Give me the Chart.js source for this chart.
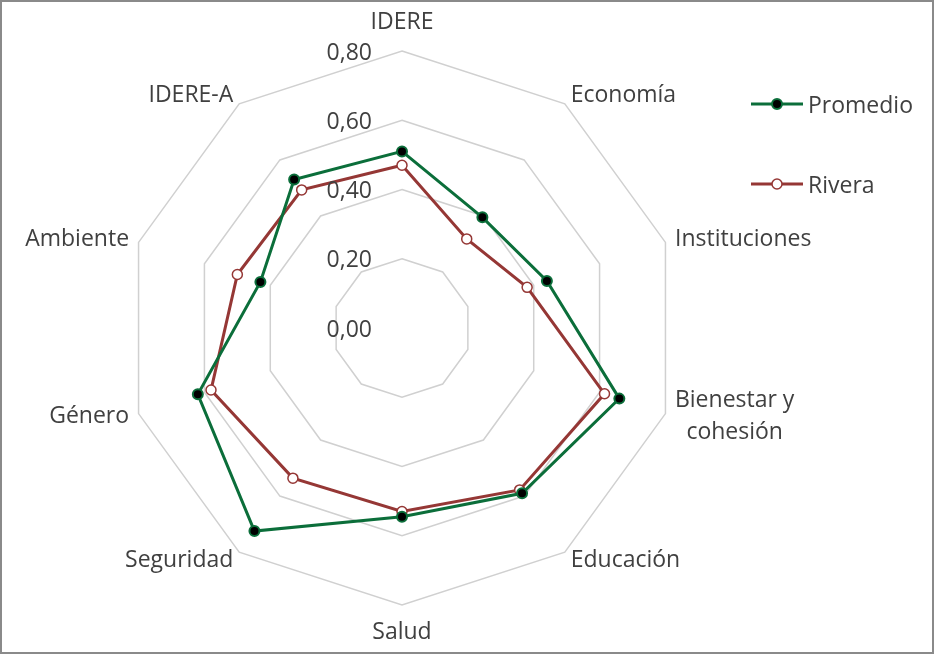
<!DOCTYPE html>
<html>
<head>
<meta charset="utf-8">
<script src="https://cdn.jsdelivr.net/npm/chart.js@4.4.1/dist/chart.umd.min.js"></script>
<style>
    body { margin: 0; background: #fff; }
    #wrap { position: relative; width: 934px; height: 654px; }
    #frame { position: absolute; left: 0; top: 0; width: 934px; height: 654px; box-sizing: border-box; border: 2px solid #8a8a8a; pointer-events: none; }
    .legend { position: absolute; left: 751px; font-family: "Open Sans", sans-serif; font-size: 23px; color: #404040; display: flex; align-items: center; }
    .legend svg { margin-right: 5px; }
</style>
</head>
<body>
<div id="wrap">
    <canvas id="radarChart" width="934" height="654"></canvas>
    <div class="legend" style="top:88px">
        <svg width="52" height="14"><line x1="0" y1="7" x2="52" y2="7" stroke="#0b6e3a" stroke-width="3"/><circle cx="26" cy="7" r="5" fill="#000" stroke="#0b6e3a" stroke-width="2"/></svg>Promedio
    </div>
    <div class="legend" style="top:168px">
        <svg width="52" height="14"><line x1="0" y1="7" x2="52" y2="7" stroke="#953735" stroke-width="3"/><circle cx="26" cy="7" r="5" fill="#fff" stroke="#953735" stroke-width="1.5"/></svg>Rivera
    </div>
    <div id="frame"></div>
</div>
<script>
const categories = ["IDERE", "Economía", "Instituciones", ["Bienestar y", "cohesión"], "Educación",
    "Salud", "Seguridad", "Género", "Ambiente", "IDERE-A"];
const promedio = [0.51, 0.395, 0.44, 0.66, 0.59, 0.545, 0.725, 0.62, 0.43, 0.53];
const rivera = [0.47, 0.318, 0.38, 0.615, 0.578, 0.53, 0.536, 0.58, 0.50, 0.493];
const tickValues = [0, 0.2, 0.4, 0.6, 0.8];

const textColor = "#404040";
const fontFamily = "'Open Sans', sans-serif";

function fmt(v) {
    return v.toFixed(2).replace(".", ",");
}

// labels drawn by hand so they sit where Excel puts them
const labelPlugin = {
    id: "labelPlugin",
    afterDraw(chart) {
        const scale = chart.scales.r;
        const ctx = chart.ctx;
        ctx.save();
        ctx.fillStyle = textColor;
        ctx.font = "23px " + fontFamily;
        ctx.textBaseline = "middle";

        // value ticks, left of the vertical axis
        ctx.textAlign = "right";
        tickValues.forEach(v => {
            const y = scale.yCenter - scale.getDistanceFromCenterForValue(v);
            ctx.fillText(fmt(v), scale.xCenter - 30, y + 2);
        });

        // category labels (multi-line ones are centred inside their block)
        categories.forEach((label, i) => {
            const a = scale.getIndexAngle(i);
            const p = scale.getPointPosition(i, scale.drawingArea);
            const sin = Math.sin(a), cos = Math.cos(a);
            const lines = Array.isArray(label) ? label : [label];
            const w = Math.max(...lines.map(t => ctx.measureText(t).width));
            let x, y;
            if (Math.abs(sin) < 0.01) {
                x = p.x;
                y = cos > 0 ? p.y - 29 : p.y + 27;
            } else {
                x = sin > 0 ? p.x + sin * 10 + w / 2 : p.x + sin * 10 - w / 2;
                y = p.y - cos * 10;
            }
            ctx.textAlign = "center";
            const lh = 32;
            lines.forEach((t, k) => {
                ctx.fillText(t, x, y + (k - (lines.length - 1) / 2) * lh);
            });
        });
        ctx.restore();
    }
};

const ctx = document.getElementById("radarChart").getContext("2d");
new Chart(ctx, {
    type: "radar",
    data: {
        labels: categories,
        datasets: [{
            label: "Promedio",
            data: promedio,
            borderColor: "#0b6e3a",
            borderWidth: 3,
            pointBackgroundColor: "#000",
            pointBorderColor: "#0b6e3a",
            pointBorderWidth: 2,
            pointRadius: 5,
            fill: false
        }, {
            label: "Rivera",
            data: rivera,
            borderColor: "#953735",
            borderWidth: 3,
            pointBackgroundColor: "#fff",
            pointBorderColor: "#953735",
            pointBorderWidth: 1.5,
            pointRadius: 5,
            fill: false
        }]
    },
    options: {
        responsive: false,
        animation: false,
        layout: { padding: { left: 125, right: 255, top: 51, bottom: 49 } },
        plugins: {
            legend: { display: false },
            tooltip: { enabled: false }
        },
        scales: {
            r: {
                min: 0,
                max: 0.8,
                ticks: { stepSize: 0.2, display: false },
                grid: { color: "#d0d0d0", lineWidth: 1.5 },
                angleLines: { display: false },
                pointLabels: { display: false }
            }
        }
    },
    plugins: [labelPlugin]
});
</script>
</body>
</html>
